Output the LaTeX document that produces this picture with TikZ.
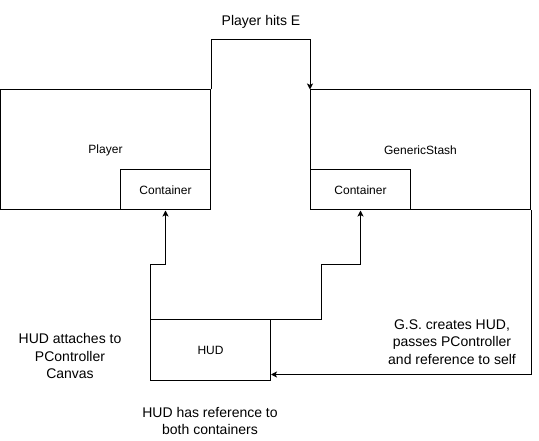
\documentclass[tikz,border=0pt]{standalone}
\usepackage{fontspec}
\setmainfont{Liberation Sans}
\usetikzlibrary{arrows.meta}

\begin{document}
\begin{tikzpicture}[x=1pt,y=-1pt,line width=1pt,
  box/.style={draw,rectangle,inner sep=0pt,font=\fontsize{12}{14}\selectfont},
  note/.style={align=center,inner sep=0pt,font=\fontsize{14}{17.5}\selectfont},
  arr/.style={-{Stealth[length=6pt,width=6pt,inset=1.5pt]}}]
\useasboundingbox (0,0) rectangle (539,441);

\node[box,minimum width=210,minimum height=120] (player) at (105.5,150) {Player};
\node[box,minimum width=220,minimum height=120] (stash) at (420.5,150) {GenericStash};

\node[box,minimum width=90,minimum height=40] (pcont) at (165.5,190) {Container};
\node[box,minimum width=100,minimum height=40] (scont) at (360.5,190) {Container};

\node[box,minimum width=120,minimum height=60] (hud) at (210.5,350) {HUD};

\node[note] (hits) at (261,22) {Player hits E};
\node[note] (attach) at (70,356) {HUD attaches to\\PController\\Canvas};
\node[note] (creates) at (452,342) {G.S. creates HUD,\\passes PController\\and reference to self};
\node[note] (refs) at (210,421) {HUD has reference to\\both containers};

\draw[arr] (player.north east) -- ++(0,-50) -| (stash.north west);
\draw[arr] (hud.north west) -- ++(0,-55) -| (pcont.south);
\draw[arr] (hud.north east) -- ++(50,0) -- ++(0,-55) -| (scont.south);
\draw[arr] (stash.south east) |- ([yshift=6pt]hud.south east);
\end{tikzpicture}
\end{document}
